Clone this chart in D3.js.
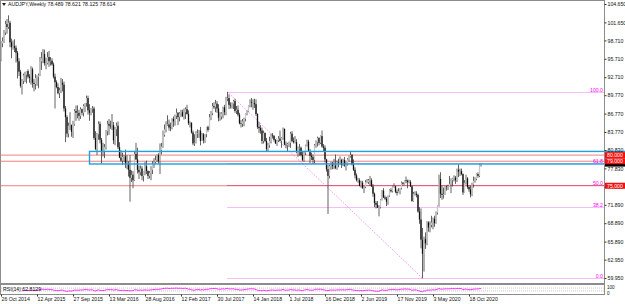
<!DOCTYPE html>
<html>
<head>
<meta charset="utf-8">
<script src="https://cdn.jsdelivr.net/npm/d3@7"></script>
<style>
  body { margin: 0; background: #fff; }
  svg { display: block; font-family: "Liberation Sans", Arial, sans-serif; }
</style>
</head>
<body>
<div id="chart"></div>
<script>
// AUDJPY weekly bars, week 0 starts 26 Oct 2014
var firstWeek = "2014-10-26";
var firstOpen = 95.6;

var highs = [
  // 2014
  98.6,99.2,100.4,101.9,102.2,102.8,101.9,99.0,98.7,98.9,
  // 2015
  97.9,97.0,95.8,93.9,92.4,93.3,93.6,93.7,94.0,93.2,94.5,94.3,92.4,93.2,93.0,93.3,96.0,96.8,97.3,97.2,95.9,96.8,97.0,96.0,95.8,95.1,
  93.3,92.2,91.7,91.0,92.6,92.4,92.0,88.0,86.5,85.3,87.0,85.0,85.6,87.5,88.1,88.1,87.4,87.8,87.6,88.3,88.5,89.7,89.7,88.3,87.7,88.0,
  // 2016
  87.9,83.9,83.6,85.5,85.5,82.8,82.0,81.8,84.1,85.6,85.9,85.6,86.7,85.4,84.6,85.3,85.5,82.1,80.8,80.4,80.0,80.9,80.0,79.0,80.0,77.5,
  77.4,80.6,82.0,81.2,78.3,78.3,78.2,77.4,78.9,79.1,77.5,77.4,78.2,79.0,79.5,79.9,80.1,80.3,81.9,82.0,84.0,85.0,85.5,86.5,85.8,85.3,
  // 2017
  86.0,86.3,86.6,87.6,87.0,87.0,87.4,87.4,87.6,87.8,88.2,87.3,85.5,85.3,84.0,83.4,83.9,84.2,84.1,84.6,83.6,83.6,83.4,84.6,84.8,86.7,
  87.2,88.5,88.6,89.0,88.8,88.3,87.0,87.0,87.9,88.2,89.5,90.3,89.9,88.6,88.6,89.0,89.2,88.0,88.1,86.9,85.7,85.9,86.1,86.8,87.3,88.1,
  // 2018
  89.1,89.3,89.1,89.2,89.1,86.8,85.4,84.9,84.5,84.0,83.7,82.8,82.0,83.0,83.5,83.6,83.3,82.6,82.5,83.1,84.0,82.9,84.5,84.3,82.2,82.0,
  82.2,83.8,83.9,82.9,83.1,82.6,81.4,81.8,81.4,80.6,80.6,81.7,82.5,82.5,81.0,80.4,80.1,81.8,82.4,83.0,82.9,83.2,84.0,81.8,81.6,79.4,78.4,
  // 2019
  78.4,78.9,78.9,79.4,80.1,79.1,79.4,79.8,79.4,79.4,79.7,78.9,79.5,79.9,80.7,80.2,79.3,78.0,77.0,76.3,76.2,75.8,75.8,75.0,75.9,
  76.1,76.1,76.6,76.2,75.3,73.9,72.5,72.5,71.8,72.8,74.3,74.6,73.4,73.2,73.4,74.4,74.6,75.0,75.4,75.0,74.4,74.6,74.6,75.7,75.6,75.9,
  // 2020
  76.5,76.0,76.0,75.9,75.0,74.0,74.1,74.1,73.7,71.5,71.3,68.1,66.7,67.4,69.2,69.2,69.2,70.1,69.8,70.1,70.8,71.8,76.8,77.2,75.0,
  74.7,74.9,75.0,75.2,76.6,76.2,76.3,76.7,76.6,77.8,78.5,77.8,77.8,77.0,75.9,76.8,76.4,75.0,75.0,75.5,76.5,76.4,77.0,77.2,78.6,78.621
];

var lows = [
  // 2014
  95.3,97.6,98.3,99.6,99.8,100.6,97.6,95.8,97.2,96.8,
  // 2015
  95.1,92.5,92.9,91.0,89.9,91.6,91.9,91.7,92.5,91.8,91.5,91.0,90.4,90.7,91.3,90.9,92.9,93.9,95.0,94.6,94.0,94.8,94.4,94.6,94.6,92.5,
  87.6,90.9,89.9,89.3,90.1,90.4,87.1,82.1,82.9,82.9,84.1,83.0,82.8,84.8,85.6,86.0,85.6,85.9,86.5,86.3,87.0,87.9,86.6,85.6,86.5,86.9,
  // 2016
  82.5,80.8,80.0,82.5,81.9,78.6,79.8,79.5,80.9,83.2,83.3,84.3,84.1,81.8,81.6,83.1,81.0,79.5,78.9,78.4,78.9,77.9,77.7,76.5,72.4,75.6,
  74.6,75.8,79.2,77.0,76.1,76.7,75.9,75.7,76.7,76.9,76.1,76.2,75.9,76.9,77.9,78.6,78.9,78.6,76.9,80.1,81.2,83.0,83.7,84.8,84.0,83.9,
  // 2017
  84.2,84.6,84.8,85.9,84.9,85.5,86.2,86.2,85.8,85.9,86.6,84.9,84.5,83.5,81.6,81.5,81.9,82.8,82.8,81.6,82.3,81.9,82.0,82.9,83.8,84.1,
  85.7,86.5,87.5,87.0,86.9,85.5,85.6,85.8,86.0,86.5,86.5,88.8,87.5,87.6,87.6,87.5,86.9,86.7,86.3,85.0,84.5,84.6,84.7,85.5,86.5,87.0,
  // 2018
  87.8,87.8,87.4,87.7,86.4,84.3,83.6,83.5,81.8,81.9,82.1,80.6,80.5,81.2,81.9,82.7,82.2,81.8,81.5,82.1,82.2,81.2,82.5,81.6,81.1,80.6,
  81.3,81.2,82.1,81.9,81.9,80.3,79.7,79.9,79.8,79.0,78.9,80.0,81.4,80.6,78.7,79.2,78.6,78.6,81.2,81.4,81.6,81.8,81.2,80.6,78.8,77.3,70.4,
  // 2019
  76.2,77.6,77.7,77.7,77.7,77.6,78.0,78.6,77.9,78.2,78.1,77.5,78.3,78.9,79.6,78.3,77.4,76.2,75.7,75.5,74.9,74.7,74.5,73.8,74.6,
  75.4,75.3,75.0,74.8,73.2,71.5,71.3,71.4,70.0,71.3,72.6,73.0,72.7,71.7,71.9,73.2,73.9,73.9,74.7,73.8,73.4,73.8,73.6,74.4,75.0,75.2,
  // 2020
  75.4,74.6,75.4,74.8,72.4,72.4,73.4,73.1,70.6,68.8,64.8,59.9,61.0,64.7,65.3,67.5,67.4,68.2,67.9,68.3,68.8,70.3,71.6,73.0,72.7,
  72.9,73.5,74.2,74.3,74.9,73.8,74.9,75.7,75.3,75.6,76.4,76.6,76.7,73.5,73.9,75.2,74.5,74.0,73.1,73.3,74.7,75.5,75.9,76.3,76.4,78.125
];

var closes = [
  // 2014
  98.2,98.6,100.0,101.4,100.9,101.6,98.4,97.6,97.8,97.5,
  // 2015
  96.7,95.3,93.6,91.3,92.1,93.0,93.1,93.7,92.8,92.6,94.0,91.8,91.6,92.6,92.8,93.0,95.3,95.8,96.5,95.0,95.0,96.0,95.3,95.4,94.8,92.8,
  91.9,91.1,90.1,90.6,91.8,91.5,87.6,86.2,83.5,84.8,84.9,83.8,85.0,87.2,86.9,86.9,86.4,87.5,86.9,88.0,88.5,89.3,87.3,86.9,87.6,87.6,
  // 2016
  82.8,81.0,83.4,85.1,82.5,80.5,80.7,81.3,83.9,85.1,84.8,84.7,84.9,82.4,84.2,84.8,81.3,79.6,79.1,79.7,79.8,78.5,78.5,77.6,76.3,76.8,
  75.9,80.2,79.3,77.6,77.2,77.8,76.6,77.4,78.2,77.4,76.6,77.1,77.6,78.6,78.9,79.2,80.0,79.0,80.8,81.4,83.3,84.2,85.0,85.0,84.5,84.4,
  // 2017
  85.9,85.5,86.4,86.9,86.2,86.8,87.0,86.4,87.0,87.5,86.7,85.2,85.3,83.7,81.9,82.0,83.6,83.6,84.0,82.3,83.4,82.4,83.4,84.6,84.1,86.2,
  86.8,88.0,87.8,88.4,87.6,86.1,86.3,86.8,87.8,87.0,89.2,89.3,88.2,88.1,88.4,88.8,87.2,87.4,86.6,85.2,85.1,85.5,85.9,86.8,87.1,88.1,
  // 2018
  88.6,88.5,88.5,88.3,86.7,84.6,84.4,84.0,82.3,83.6,82.3,81.0,81.6,82.3,83.2,83.1,82.5,81.9,82.4,82.7,82.3,82.8,84.3,81.7,81.6,81.8,
  82.0,83.5,82.3,82.1,82.1,80.5,81.1,81.2,80.0,79.2,80.4,81.6,82.2,80.7,79.9,79.7,79.2,81.6,82.1,82.8,82.0,83.1,81.4,81.2,79.3,77.7,76.6,
  // 2019
  78.2,78.7,78.2,78.3,77.9,78.8,78.7,79.2,78.4,79.2,78.3,78.6,79.3,79.8,80.0,78.5,77.6,76.7,75.9,75.9,75.0,75.5,74.6,74.8,75.6,
  75.6,75.9,75.9,74.9,73.7,72.2,71.9,71.4,71.5,72.7,74.2,73.1,72.9,72.4,73.4,74.3,74.1,74.9,74.9,74.0,73.8,74.1,74.6,75.5,75.3,75.9,
  // 2020
  75.8,75.6,75.6,74.9,72.5,73.7,73.7,73.5,70.8,69.5,66.2,63.9,66.3,65.6,69.0,68.2,68.6,69.0,69.6,68.9,70.6,71.8,76.1,73.7,73.5,
  73.6,74.9,74.8,74.9,75.3,75.9,76.2,76.3,75.9,77.6,77.3,77.4,76.9,73.9,75.5,76.2,74.8,74.4,73.6,75.2,75.8,76.1,76.9,76.6,78.489,78.614
];

var priceTicks = [104.650,101.650,98.710,95.710,92.710,89.770,86.770,83.770,80.830,77.830,74.830,71.890,68.890,65.890,62.950,59.950];
var timeLabels = ["26 Oct 2014","12 Apr 2015","27 Sep 2015","13 Mar 2016","28 Aug 2016","12 Feb 2017","30 Jul 2017",
                  "14 Jan 2018","1 Jul 2018","16 Dec 2018","2 Jun 2019","17 Nov 2019","3 May 2020","18 Oct 2020"];

// drawn objects
var levelPrices = [80.000, 79.000, 75.000];
var zonePrices = [80.60, 78.55];
var zoneStart = "2015-12-13";
var fibLevels = [0, 38.2, 50.0, 61.8, 100.0];
var fibDates = ["2017-09-17", "2020-03-15"];
var fibPrices = [90.30, 59.90];
var titleText = "AUDJPY,Weekly  78.489 78.621 78.125 78.614";
var rsiText = "RSI(14) 62.8129";

var W = 625, H = 304;
var axisX = 604, mainBottom = 283, subTop = 285, subBottom = 294;

var parseDay = d3.timeParse("%Y-%m-%d");
var parseLabel = d3.timeParse("%d %b %Y");
var start = parseDay(firstWeek);
var dates = closes.map(function(d, i) { return d3.timeWeek.offset(start, i); });
// weekly FX bars open where the previous one closed
var opens = closes.map(function(d, i) { return i === 0 ? firstOpen : closes[i - 1]; });

var x = d3.scaleTime()
    .domain([start, dates[dates.length - 1]])
    .range([1, 1 + 1.5 * (dates.length - 1)]);
var y = d3.scaleLinear().domain([59.95, 104.65]).range([278, 4]);

var svg = d3.select("#chart").append("svg")
    .attr("width", W).attr("height", H);

svg.append("rect").attr("width", W).attr("height", H).attr("fill", "#fff");

var main = svg.append("g");
main.append("clipPath").attr("id", "mainClip")
    .append("rect").attr("x", 0).attr("y", 0).attr("width", axisX).attr("height", mainBottom);

// horizontal levels (red)
main.selectAll(".level")
    .data(levelPrices)
    .enter().append("line")
    .attr("x1", 0).attr("x2", axisX)
    .attr("y1", function(d) { return y(d); })
    .attr("y2", function(d) { return y(d); })
    .attr("stroke", "#ee8080").attr("stroke-width", 1);

// fibo retracement
var fibX0 = x(parseDay(fibDates[0]));
var fibX1 = x(parseDay(fibDates[1]));
var fibPrice = function(l) { return fibPrices[1] + (fibPrices[0] - fibPrices[1]) * l / 100; };

main.append("line")
    .attr("x1", fibX0).attr("y1", y(fibPrices[0]))
    .attr("x2", fibX1).attr("y2", y(fibPrices[1]))
    .attr("stroke", "#f07af0").attr("stroke-width", 1).attr("stroke-dasharray", "1,1.5");

main.selectAll(".fib")
    .data(fibLevels)
    .enter().append("line")
    .attr("x1", fibX0).attr("x2", axisX)
    .attr("y1", function(d) { return Math.round(y(fibPrice(d))) + 0.5; })
    .attr("y2", function(d) { return Math.round(y(fibPrice(d))) + 0.5; })
    .attr("stroke", function(d) { return d === 50 ? "#d8206a" : "#f07af0"; })
    .attr("stroke-width", 1).attr("stroke-dasharray", "1,1");

main.selectAll(".fibLabel")
    .data(fibLevels)
    .enter().append("text")
    .attr("x", axisX - 1)
    .attr("y", function(d) { return Math.round(y(fibPrice(d))) - 0.5; })
    .attr("text-anchor", "end")
    .attr("font-size", 5.2)
    .attr("fill", "#ff00ff")
    .text(function(d) { return d.toFixed(1); });

// candles
var bars = main.append("g").attr("clip-path", "url(#mainClip)")
    .selectAll("g").data(closes).enter().append("g");

bars.append("line")
    .attr("x1", function(d, i) { return x(dates[i]); })
    .attr("x2", function(d, i) { return x(dates[i]); })
    .attr("y1", function(d, i) { return y(highs[i]); })
    .attr("y2", function(d, i) { return y(lows[i]); })
    .attr("stroke", "#3a3a3a").attr("stroke-width", 0.8);

bars.append("rect")
    .attr("x", function(d, i) { return x(dates[i]) - 0.65; })
    .attr("width", 1.3)
    .attr("y", function(d, i) { return y(Math.max(opens[i], closes[i])); })
    .attr("height", function(d, i) { return Math.max(0.6, Math.abs(y(opens[i]) - y(closes[i]))); })
    .attr("fill", function(d, i) { return closes[i] >= opens[i] ? "#c8c8c8" : "#111"; });

// blue zone rectangle
var zx = x(parseDay(zoneStart));
svg.append("rect")
    .attr("x", zx).attr("y", y(zonePrices[0]))
    .attr("width", W - zx + 2).attr("height", y(zonePrices[1]) - y(zonePrices[0]))
    .attr("fill", "none").attr("stroke", "#1fa0e0").attr("stroke-width", 1.4);

// frame and price axis
svg.append("rect")
    .attr("x", 0.5).attr("y", 0.5).attr("width", axisX).attr("height", mainBottom)
    .attr("fill", "none").attr("stroke", "#8c8c8c").attr("stroke-width", 1);

var yAxis = d3.axisRight(y).tickValues(priceTicks).tickSize(2).tickPadding(1)
    .tickFormat(d3.format(".3f"));
svg.append("g").attr("transform", "translate(" + (axisX + 0.5) + ",0)")
    .call(yAxis)
    .call(function(g) { g.select(".domain").remove(); })
    .call(function(g) {
      g.selectAll("line").attr("stroke", "#333");
      g.selectAll("text").attr("font-size", 5.2).attr("fill", "#111")
        .attr("font-family", "Liberation Sans, Arial, sans-serif");
    });

// current price box then red level labels
svg.append("rect").attr("x", axisX + 1).attr("y", y(78.614) - 3).attr("width", 20).attr("height", 6).attr("fill", "#000");
var tags = svg.selectAll(".tag").data(levelPrices).enter().append("g");
tags.append("rect")
    .attr("x", axisX + 1).attr("y", function(d) { return y(d) - 3; })
    .attr("width", W - axisX - 1).attr("height", 6)
    .attr("fill", "#f01010");
tags.append("text")
    .attr("x", axisX + 3).attr("y", function(d) { return y(d) + 2; })
    .attr("font-size", 5.2).attr("fill", "#fff")
    .text(function(d) { return d3.format(".3f")(d); });

// title
svg.append("path").attr("d", "M2,3 L6,3 L4,6 Z").attr("fill", "#222");
svg.append("text").attr("x", 8).attr("y", 6).attr("font-size", 5.2).attr("fill", "#111").text(titleText);

// RSI sub-window
var yr = d3.scaleLinear().domain([0, 100]).range([subBottom - 1, subTop + 1]);
svg.append("rect")
    .attr("x", 0.5).attr("y", subTop - 0.5).attr("width", axisX).attr("height", subBottom - subTop + 1)
    .attr("fill", "#fff").attr("stroke", "#8c8c8c");
[70, 30].forEach(function(v) {
  svg.append("line").attr("x1", 1).attr("x2", axisX)
     .attr("y1", yr(v)).attr("y2", yr(v))
     .attr("stroke", "#b8b8b8").attr("stroke-width", 0.8).attr("stroke-dasharray", "1,1");
});

function wilderRsi(c, n) {
  var out = c.map(function() { return null; });
  var ag = 0, al = 0;
  for (var i = 1; i < c.length; i++) {
    var d = c[i] - c[i - 1], g = Math.max(d, 0), l = Math.max(-d, 0);
    if (i <= n) {
      ag += g / n; al += l / n;
      if (i < n) continue;
    } else {
      ag = (ag * (n - 1) + g) / n; al = (al * (n - 1) + l) / n;
    }
    out[i] = al === 0 ? 100 : 100 - 100 / (1 + ag / al);
  }
  return out;
}
var rsi = wilderRsi(closes, 14);
svg.append("path")
    .datum(rsi)
    .attr("d", d3.line()
      .defined(function(d) { return d !== null; })
      .x(function(d, i) { return x(dates[i]); })
      .y(function(d) { return yr(d); }))
    .attr("fill", "none").attr("stroke", "#ff00ff").attr("stroke-width", 0.8);

svg.append("text").attr("x", 3).attr("y", 291).attr("font-size", 5.2).attr("fill", "#111").text(rsiText);
svg.append("text").attr("x", axisX + 3).attr("y", 289).attr("font-size", 4.6).attr("fill", "#111").text("100");
svg.append("text").attr("x", axisX + 3).attr("y", 294.5).attr("font-size", 4.6).attr("fill", "#111").text("0");

// time axis
var xAxis = d3.axisBottom(x)
    .tickValues(timeLabels.map(function(s) { return parseLabel(s); }))
    .tickSize(2).tickPadding(1)
    .tickFormat(function(d, i) { return timeLabels[i]; });
svg.append("g").attr("transform", "translate(0," + (subBottom + 0.5) + ")")
    .call(xAxis)
    .call(function(g) { g.select(".domain").remove(); })
    .call(function(g) {
      g.selectAll("line").attr("stroke", "#333");
      g.selectAll("text").attr("font-size", 5.2).attr("fill", "#111")
        .attr("text-anchor", "start").attr("dx", 0)
        .attr("font-family", "Liberation Sans, Arial, sans-serif");
    });
</script>
</body>
</html>
